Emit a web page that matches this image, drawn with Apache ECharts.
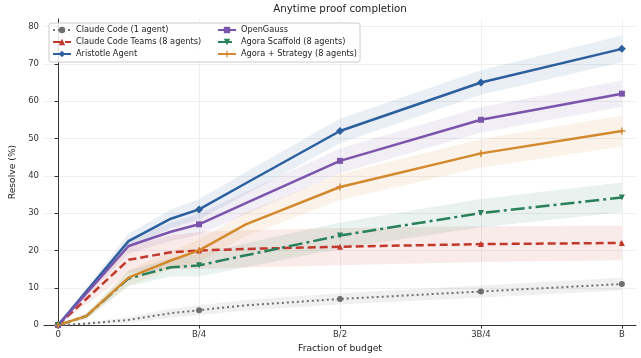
<!DOCTYPE html>
<html>
<head>
<meta charset="utf-8">
<script src="https://cdn.jsdelivr.net/npm/echarts@6/dist/echarts.min.js"></script>
<style>
html,body{margin:0;padding:0;background:#fff;}
#chart{width:641px;height:358px;}
</style>
</head>
<body>
<div id="chart"></div>
<script>
// ---- data ----
const budgetFractions = [0, 0.05, 0.125, 0.2, 0.25, 0.333, 0.5, 0.75, 1];
const markerFractions = [0, 0.25, 0.5, 0.75, 1];
const xTickValues = [0, 0.25, 0.5, 0.75, 1];
const xTickLabels = ['0', 'B/4', 'B/2', '3B/4', 'B'];
const yTickValues = [0, 10, 20, 30, 40, 50, 60, 70, 80];

const seriesNames = ['Claude Code (1 agent)', 'Claude Code Teams (8 agents)', 'Aristotle Agent',
  'OpenGauss', 'Agora Scaffold (8 agents)', 'Agora + Strategy (8 agents)'];

const claudeCode1 = [0, 0.4, 1.4, 3.2, 4.0, 5.3, 7.0, 9.0, 11.0];
const claudeTeams = [0, 7.0, 17.5, 19.5, 20.0, 20.4, 21.0, 21.7, 22.0];
const aristotle   = [0, 9.0, 22.5, 28.5, 31.0, 38.0, 52.0, 65.0, 74.0];
const openGauss   = [0, 8.5, 21.2, 25.0, 27.0, 32.7, 44.0, 55.0, 62.0];
const agoraScaffold = [0, 2.4, 12.5, 15.5, 16.0, 18.7, 24.0, 30.0, 34.2];
const agoraStrategy = [0, 2.4, 12.7, 17.3, 20.0, 27.0, 37.0, 46.0, 52.0];

// half-width of the shaded band around each series
const claudeCode1Band = [0, 0.3, 0.8, 1.2, 1.3, 1.4, 1.5, 1.6, 1.7];
const claudeTeamsBand = [0, 1.5, 3.5, 4.5, 5.0, 5.0, 5.0, 4.8, 4.6];
const aristotleBand   = [0, 1.0, 2.0, 2.5, 2.7, 3.0, 3.3, 3.3, 3.6];
const openGaussBand   = [0, 1.0, 2.0, 2.5, 2.8, 3.0, 3.3, 3.4, 3.5];
const agoraScaffoldBand = [0, 0.8, 2.0, 2.5, 3.0, 3.2, 3.5, 3.8, 4.0];
const agoraStrategyBand = [0, 0.8, 2.0, 2.5, 3.0, 3.2, 3.5, 3.8, 4.2];

// ---- styling ----
const FONT = 'DejaVu Sans';
const styles = [
  {color:'#6f6f6f', type:[2,3], width:2, symbol:'circle', size:6},
  {color:'#c0392b', type:[8,4], width:2.5, symbol:'triangle', size:6},
  {color:'#2c5f9e', type:'solid', width:2.5, symbol:'diamond', size:8},
  {color:'#7b55ab', type:'solid', width:2.5, symbol:'rect', size:6},
  {color:'#2a7f5c', type:[14,4,3,4], width:2.5, symbol:'path://M0,0L10,0L5,10Z', size:6},
  {color:'#d3892e', type:'solid', width:2.5, symbol:'path://M4,0H6V4H10V6H6V10H4V6H0V4H4Z', size:7}
];
const values = [claudeCode1, claudeTeams, aristotle, openGauss, agoraScaffold, agoraStrategy];
const bands = [claudeCode1Band, claudeTeamsBand, aristotleBand, openGaussBand, agoraScaffoldBand, agoraStrategyBand];

function hexA(hex, a){
  const r=parseInt(hex.slice(1,3),16), g=parseInt(hex.slice(3,5),16), b=parseInt(hex.slice(5,7),16);
  return 'rgba('+r+','+g+','+b+','+a+')';
}

const series = [];
values.forEach((vals, k) => {
  const band = bands[k];
  const st = styles[k];
  series.push({
    type:'custom', silent:true, z:1, data:[[0,0]],
    renderItem:function(params, api){
      const up = budgetFractions.map((x,i)=>api.coord([x, vals[i]+band[i]]));
      const lo = budgetFractions.map((x,i)=>api.coord([x, Math.max(0, vals[i]-band[i])])).reverse();
      return {type:'polygon', shape:{points: up.concat(lo)}, style:{fill: hexA(st.color, 0.1)}};
    }
  });
});
values.forEach((vals, k) => {
  const st = styles[k];
  series.push({
    name: seriesNames[k], type:'line', z:3,
    symbol: st.symbol, symbolSize: st.size, showSymbol:true,
    color: st.color,
    itemStyle:{color: st.color},
    lineStyle:{color: st.color, width: st.width, type: st.type, cap:'butt'},
    emphasis:{disabled:true},
    animation:false,
    data: budgetFractions.map((x,i)=>({value:[x, vals[i]], symbolSize: markerFractions.indexOf(x)>=0 ? st.size : 0}))
  });
});

const chart = echarts.init(document.getElementById('chart'), null, {renderer:'canvas'});
const legendCommon = {
  orient:'vertical', top:26, padding:0, itemWidth:18, itemHeight:8, itemGap:4, z:10,
  textStyle:{fontFamily:FONT, fontSize:8.2, color:'#222', lineHeight:8},
  selectedMode:false
};
chart.setOption({
  animation:false,
  backgroundColor:'#fff',
  grid:{left:44, right:5, top:19, bottom:32, containLabel:false},
  graphic:[
    {type:'text', x:340, y:9, z:10,
      style:{text:'Anytime proof completion', fontFamily:FONT, fontSize:10.3, fill:'#222', textAlign:'center', textVerticalAlign:'middle'}},
    {type:'rect', z:9, shape:{x:49, y:23, width:311, height:39, r:2},
      style:{fill:'rgba(255,255,255,0.85)', stroke:'#cccccc', lineWidth:1}}
  ],
  legend:[
    Object.assign({left:52, data:seriesNames.slice(0,3)}, legendCommon),
    Object.assign({left:217, data:seriesNames.slice(3,6)}, legendCommon)
  ],
  xAxis:{
    type:'value', min:-0.025, max:1.025,
    name:'Fraction of budget', nameLocation:'middle', nameGap:18,
    nameTextStyle:{fontFamily:FONT, fontSize:9.2, color:'#222'},
    axisLine:{show:true, onZero:false, lineStyle:{color:'#333', width:1}},
    axisTick:{show:true, length:3.5, customValues:xTickValues, lineStyle:{color:'#333'}},
    axisLabel:{customValues:xTickValues, fontFamily:FONT, fontSize:8.5, color:'#333', margin:5,
      formatter:function(v){ const i = xTickValues.findIndex(t=>Math.abs(t-v)<1e-9); return i>=0 ? xTickLabels[i] : ''; }},
    splitLine:{show:true, lineStyle:{color:'#ebebeb', width:0.8}}
  },
  yAxis:{
    type:'value', min:0, max:82,
    name:'Resolve (%)', nameLocation:'middle', nameGap:23,
    nameTextStyle:{fontFamily:FONT, fontSize:9.2, color:'#222'},
    axisLine:{show:true, lineStyle:{color:'#333', width:1}},
    axisTick:{show:true, length:3.5, customValues:yTickValues, lineStyle:{color:'#333'}},
    axisLabel:{customValues:yTickValues, fontFamily:FONT, fontSize:8.5, color:'#333', margin:5},
    splitLine:{show:true, lineStyle:{color:'#ebebeb', width:0.8}}
  },
  series: series
});
</script>
</body>
</html>
